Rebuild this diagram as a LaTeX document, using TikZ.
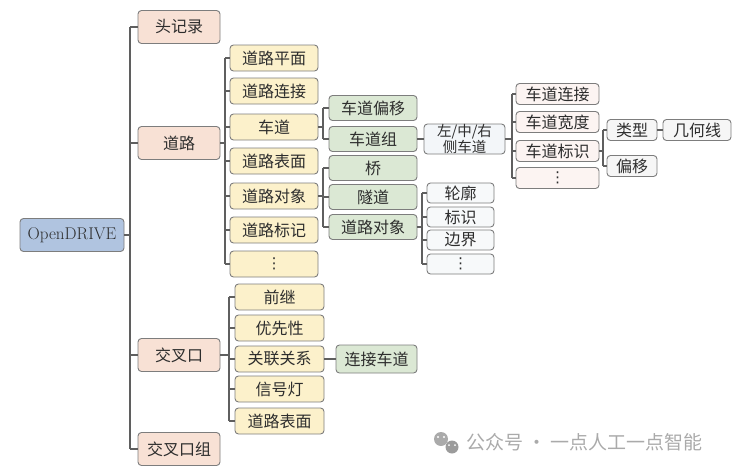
\documentclass[tikz,border=0pt]{standalone}
\usepackage{fontspec}
\newfontfamily\cjk{Noto Sans CJK SC}
\newfontfamily\dej{DejaVu Sans}
\definecolor{bordc}{RGB}{125,125,125}
\definecolor{linec}{RGB}{95,95,95}
\definecolor{txt}{RGB}{45,45,45}
\definecolor{cblue}{RGB}{176,196,224}
\definecolor{cpeach}{RGB}{248,225,213}
\definecolor{cyel}{RGB}{252,241,203}
\definecolor{cgreen}{RGB}{219,232,212}
\definecolor{clzy}{RGB}{243,246,249}
\definecolor{cpale}{RGB}{247,249,250}
\definecolor{cpink}{RGB}{252,244,242}
\definecolor{cgray}{RGB}{246,246,246}
\definecolor{wm}{RGB}{170,170,170}
\newcommand\vd{{\dej\fontsize{15}{15}\selectfont ⋮}}
\newcommand\treegrp[5]{%
  \coordinate (tk) at (#2,0);
  \draw[conn] (#1.east) -- (#1.east -| tk);
  \draw[conn] (tk |- #3.west) -- (tk |- #4.west);
  \foreach \c in {#5} \draw[conn] (tk |- \c.west) -- (\c.west);
}
\begin{document}
\begin{tikzpicture}[x=1pt,y=-1pt,
  box/.style={draw=bordc, line width=0.9pt, rounded corners=3.5pt, inner sep=0pt,
    align=center, text=txt, font=\cjk\fontsize{16}{18}\selectfont},
  root/.style={box, fill=cblue, minimum width=104pt, minimum height=33pt,
    font=\rmfamily\fontsize{17}{19}\selectfont},
  lone/.style={box, fill=cpeach, minimum width=82pt, minimum height=33pt},
  ltwo/.style={box, fill=cyel, minimum width=88pt, minimum height=26pt},
  ljun/.style={box, fill=cyel, minimum width=89pt, minimum height=26pt},
  lgrn/.style={box, fill=cgreen, minimum width=88pt, minimum height=25pt},
  llzy/.style={box, fill=clzy, minimum width=81pt, minimum height=30pt,
    font=\cjk\fontsize{14.5}{13.5}\selectfont},
  lobj/.style={box, fill=cpale, minimum width=67pt, minimum height=20pt},
  llane/.style={box, fill=cpink, minimum width=83pt, minimum height=21pt},
  lsmall/.style={box, fill=cgray, minimum width=50pt, minimum height=21pt},
  conn/.style={draw=linec, line width=1.1pt}]
\useasboundingbox (0,0) rectangle (740,474);
% root and level 1
\node[root] (od) at (72,235) {OpenDRIVE};
\node[lone] (hdr) at (179,27) {头记录};
\node[lone] (road) at (179,143) {道路};
\node[lone] (jc) at (179,355) {交叉口};
\node[lone] (jg) at (179,449) {交叉口组};
% road children
\node[ltwo] (r1) at (274,58) {道路平面};
\node[ltwo] (r2) at (274,91) {道路连接};
\node[ltwo] (r3) at (274,127) {车道};
\node[ltwo] (r4) at (274,161) {道路表面};
\node[ltwo] (r5) at (274,196) {道路对象};
\node[ltwo] (r6) at (274,230) {道路标记};
\node[ltwo] (r7) at (274,264) {\vd};
% junction children
\node[ljun] (j1) at (279.5,297) {前继};
\node[ljun] (j2) at (279.5,328) {优先性};
\node[ljun] (j3) at (279.5,359) {关联关系};
\node[ljun] (j4) at (279.5,389) {信号灯};
\node[ljun] (j5) at (279.5,421) {道路表面};
\node[lgrn, minimum width=81pt, minimum height=28pt] (jl) at (376.5,359) {连接车道};
% lane / object children
\node[lgrn] (g1) at (373,108) {车道偏移};
\node[lgrn] (g2) at (373,139) {车道组};
\node[lgrn] (g3) at (373,168) {桥};
\node[lgrn] (g4) at (373,197) {隧道};
\node[lgrn] (g5) at (373,227) {道路对象};
\node[llzy] (lzy) at (464.5,139) {左/中/右\\侧车道};
% lane sections
\node[llane] (c1) at (557.5,94) {车道连接};
\node[llane] (c2) at (557.5,122) {车道宽度};
\node[llane] (c3) at (557.5,151) {车道标识};
\node[llane] (c4) at (557.5,178) {\vd};
\node[lsmall] (t1) at (632,130) {类型};
\node[lsmall] (t2) at (632,166) {偏移};
\node[lsmall, minimum width=68pt] (geo) at (697,130) {几何线};
% object children
\node[lobj] (o1) at (460.5,193) {轮廓};
\node[lobj] (o2) at (460.5,217) {标识};
\node[lobj] (o3) at (460.5,240) {边界};
\node[lobj] (o4) at (460.5,264) {\vd};
% connectors
\treegrp{od}{130}{hdr}{jg}{hdr,road,jc,jg}
\treegrp{road}{225}{r1}{r7}{r1,r2,r3,r4,r5,r6,r7}
\treegrp{jc}{229}{j1}{j5}{j1,j2,j3,j4,j5}
\treegrp{r3}{323}{g1}{g2}{g1,g2}
\treegrp{r5}{323}{g3}{g5}{g3,g4,g5}
\treegrp{lzy}{512}{c1}{c4}{c1,c2,c3,c4}
\treegrp{c3}{603}{t1}{t2}{t1,t2}
\treegrp{g5}{422}{o1}{o4}{o1,o2,o3,o4}
\draw[conn] (g2.east) -- (lzy.west);
\draw[conn] (j3.east) -- (jl.west);
\draw[conn] (t1.east) -- (geo.west);
% watermark
\fill[wm] (441,439) circle (7pt);
\fill[wm!85!black!60!wm] (452,447) circle (6.5pt);
\fill[white] (438,437) circle (1.1pt) (444,437) circle (1.1pt)
  (449,445) circle (1pt) (455,445) circle (1pt);
\node[text=wm, font=\cjk\fontsize{19}{21}\selectfont, anchor=west, inner sep=0pt]
  (wmk) at (466,442) {公众号 · 一点人工一点智能};
\end{tikzpicture}
\end{document}
